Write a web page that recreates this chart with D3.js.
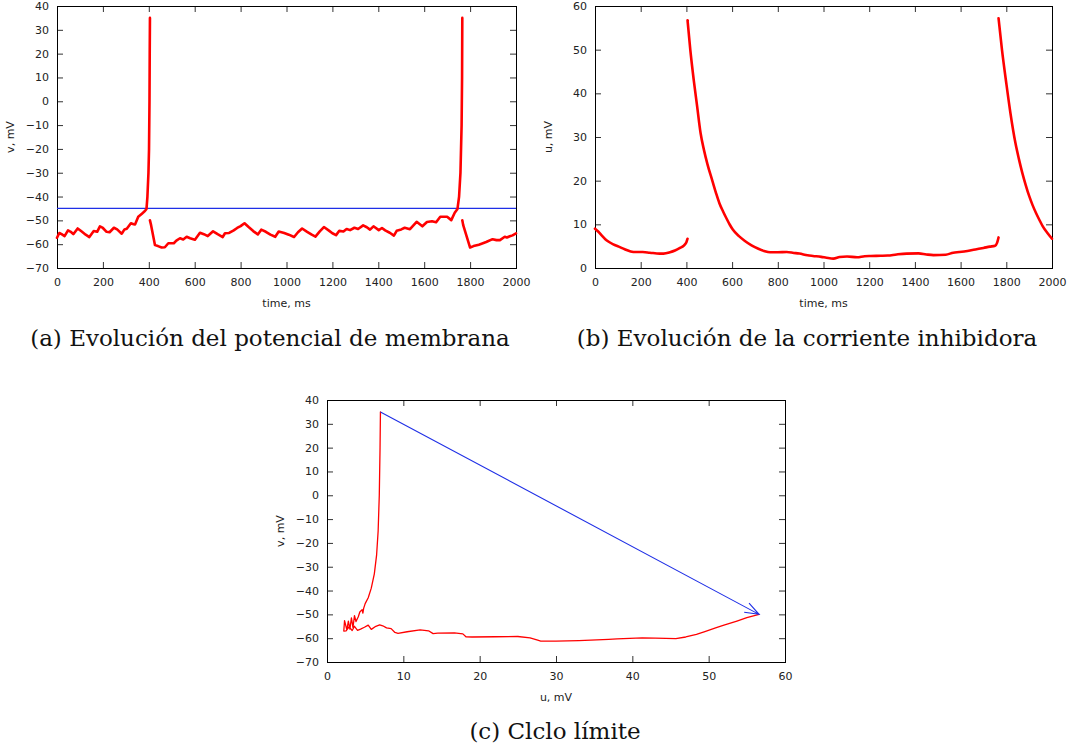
<!DOCTYPE html>
<html>
<head>
<meta charset="utf-8">
<script src="https://cdn.jsdelivr.net/npm/d3@7"></script>
<style>
body { margin: 0; background: #fff; }
svg { display: block; }
.tick text { font-family: "DejaVu Sans", sans-serif; font-size: 11px; fill: #222; }
.tick line { stroke: #333; }
.axis-label { font-family: "DejaVu Sans", sans-serif; font-size: 11px; fill: #222; text-anchor: middle; }
.caption { font-family: "DejaVu Serif", serif; font-size: 23px; fill: #111; text-anchor: middle; }
.frame { fill: none; stroke: #000; stroke-width: 1; }
.line { fill: none; stroke-linejoin: round; stroke-linecap: round; }
</style>
</head>
<body>
<svg id="chart" width="1075" height="750"></svg>
<script>
var red = "#ff0000",
    blue = "#1f2fe6";

// (a) membrane potential v(t), null = break at spike reset
var vTime = [0, 10, 20, 33, 48, 60, 71, 90, 105, 125, 141, 160, 175, 187, 200, 216, 229, 248, 262, 282, 294, 304, 322, 334, 340, 354, 370, 383, 390, 394, 398.5, 401, 403, 404, 405,
  405,
  405, 410, 427, 440, 456, 470, 485, 509, 520, 536, 550, 565, 580, 601, 623, 640, 657, 680, 700, 722, 732, 750, 770, 785, 800, 817, 835, 855, 875, 890, 910, 930, 951, 966, 990, 1010, 1033, 1050, 1068, 1090, 1110, 1126, 1145, 1163, 1185, 1200, 1216, 1230, 1248, 1262, 1277, 1296, 1312, 1334, 1350, 1364, 1379, 1402, 1416, 1430, 1450, 1468, 1480, 1500, 1515, 1538, 1567, 1592, 1612, 1634, 1652, 1670, 1700, 1718, 1733, 1745, 1752, 1758, 1763, 1765, 1766,
  1766,
  1766, 1770, 1800, 1815, 1838, 1850, 1870, 1898, 1915, 1930, 1951, 1960, 1973, 1985, 2000];
var vValue = [-57.3, -55.3, -55.8, -56.6, -54.2, -54.8, -55.8, -53.4, -54.5, -56, -57, -54.5, -54.8, -52.5, -53.2, -54.8, -55, -53.1, -53.8, -55.6, -53.8, -53.5, -51.2, -51.6, -51.7, -48.5, -47.2, -46.1, -45.2, -40, -30, -20, 0, 20, 35,
  null,
  -50, -52, -60.4, -60.8, -61.4, -61.3, -59.6, -59.6, -58.5, -57.5, -58, -56.9, -57.5, -58.1, -55.2, -55.8, -56.6, -54.6, -55.8, -57, -55.4, -55.3, -54.2, -53.2, -52.4, -51.2, -52.8, -54.5, -55.9, -53.9, -54.8, -56, -56.9, -54.7, -55.3, -56, -57, -55, -53.4, -54.8, -56, -56.8, -54.6, -52.8, -54.3, -55.4, -56.2, -54.4, -54.7, -53.6, -54.1, -53.1, -53.6, -52.1, -52.9, -53.9, -52.5, -54.1, -53.2, -54.2, -55.2, -56.4, -54.4, -53.8, -53.1, -53.7, -50.6, -52.5, -50.7, -50.4, -50.8, -48.5, -48.5, -49.9, -46.8, -45.2, -40, -30, -10, 10, 35,
  null,
  -50, -52, -61.4, -60.8, -60.2, -59.8, -59.1, -57.9, -58.3, -58.3, -56.9, -57.2, -56.7, -56.3, -55.5];
var threshold = -45;

// (b) inhibitory current u(t)
var uTime = [0, 15, 30, 45, 60, 80, 104, 130, 156, 180, 209, 240, 283, 300, 328, 350, 372, 390, 400, 405,
  405,
  405, 417, 432, 447, 462, 477, 492, 514, 530, 544, 560, 574, 590, 603, 630, 656, 685, 715, 740, 766, 800, 839, 870, 894, 930, 954, 990, 1013, 1043, 1070, 1103, 1147, 1180, 1207, 1250, 1281, 1320, 1364, 1416, 1450, 1481, 1535, 1568, 1594, 1630, 1670, 1700, 1728, 1751, 1760, 1766,
  1766,
  1766, 1781, 1800, 1818, 1840, 1855, 1870, 1885, 1900, 1915, 1930, 1945, 1959, 1980, 2000];
var uValue = [9.0, 8.3, 7.4, 6.6, 6.0, 5.4, 4.9, 4.3, 3.8, 3.65, 3.65, 3.5, 3.3, 3.3, 3.6, 4.0, 4.6, 5.2, 5.9, 6.7,
  null,
  56.7, 50, 43.1, 37, 30.9, 27, 23.8, 19.9, 17.1, 14.9, 13.0, 11.5, 9.9, 8.8, 7.3, 6.2, 5.2, 4.4, 3.9, 3.6, 3.6, 3.65, 3.45, 3.3, 2.9, 2.75, 2.55, 2.35, 2.15, 2.5, 2.65, 2.45, 2.7, 2.75, 2.8, 2.85, 3.1, 3.3, 3.35, 3.1, 2.95, 3.05, 3.5, 3.65, 3.9, 4.3, 4.6, 4.9, 5.1, 5.8, 7.0,
  null,
  57.2, 50, 42.3, 35.5, 28.6, 25, 21.8, 19, 16.5, 14.4, 12.6, 11, 9.6, 8.0, 6.7];

// (c) limit cycle, v against u
var cycleU = [56.6, 55, 53.7, 52, 51, 49.5, 48.4, 47, 45.7, 43, 41.3, 38, 36.9, 33, 30, 28, 27.6, 26.6, 25, 22, 19, 18.2, 17.8, 16.7, 14.5, 13.9, 13.3, 12.2, 10.5, 9.3, 8.9, 8.4, 7.8, 7.3, 6.9, 6.4, 5.8, 5.4, 4.9, 4.4, 4.0, 3.6, 3.3, 2.9, 2.5, 2.2, 2.3, 2.6, 2.8, 3.0, 3.2, 3.4, 3.6, 3.8, 4.1, 4.3, 4.6, 4.7, 4.8, 5.0, 5.4, 5.8, 6.2, 6.5, 6.7, 6.85, 6.95, 7.0];
var cycleV = [-50, -51.4, -52.8, -54.5, -55.6, -57.2, -58.4, -59.5, -60.2, -60, -59.9, -60.3, -60.5, -61, -61.2, -61.2, -60.8, -59.9, -59.3, -59.4, -59.5, -59.4, -58.2, -57.8, -57.9, -58.1, -56.9, -56.5, -57.3, -58, -57.6, -56, -55.7, -54.8, -54.4, -55, -56.3, -54.5, -55.4, -56.2, -56.7, -55, -56.8, -55.2, -56.9, -57, -52.6, -56.5, -52.8, -56.2, -51.5, -55.5, -50.5, -53, -51, -49, -48, -49.5, -47.5, -45.5, -43, -39, -33, -25, -15, 0, 20, 35];
var jumpFrom = [7.0, 35],
    jumpTo = [56.6, -50];

var timeTicks = [0, 200, 400, 600, 800, 1000, 1200, 1400, 1600, 1800, 2000],
    vTicks = [-70, -60, -50, -40, -30, -20, -10, 0, 10, 20, 30, 40],
    uTicks = [0, 10, 20, 30, 40, 50, 60];

var captions = ["(a) Evolución del potencial de membrana",
  "(b) Evolución de la corriente inhibidora",
  "(c) Clclo límite"];

var svg = d3.select("#chart");

//Draw a gnuplot style box with inward ticks on all four sides
function drawPanel(box, xDomain, yDomain, xTicks, yTicks, xLabel, yLabel){
  var x = d3.scaleLinear().domain(xDomain).range([0, box.width]);
  var y = d3.scaleLinear().domain(yDomain).range([box.height, 0]);
  var fmt = d3.format("d");

  var g = svg.append("g")
    .attr("transform", "translate(" + box.left + "," + box.top + ")");

  g.append("g")
    .attr("transform", "translate(0," + box.height + ")")
    .call(d3.axisBottom(x).tickValues(xTicks).tickSize(-6).tickPadding(10).tickFormat(fmt));
  g.append("g")
    .call(d3.axisTop(x).tickValues(xTicks).tickSize(-6).tickFormat(""));
  g.append("g")
    .call(d3.axisLeft(y).tickValues(yTicks).tickSize(-6).tickPadding(8).tickFormat(fmt));
  g.append("g")
    .attr("transform", "translate(" + box.width + ",0)")
    .call(d3.axisRight(y).tickValues(yTicks).tickSize(-6).tickFormat(""));
  g.selectAll(".domain").remove();

  g.append("rect")
    .attr("class", "frame")
    .attr("x", 0.5)
    .attr("y", 0.5)
    .attr("width", box.width)
    .attr("height", box.height);

  g.append("text")
    .attr("class", "axis-label")
    .attr("x", box.width / 2)
    .attr("y", box.height + 35)
    .attr("dy", "0.35em")
    .text(xLabel);

  g.append("text")
    .attr("class", "axis-label")
    .attr("transform", "translate(-47," + (box.height / 2) + ") rotate(-90)")
    .attr("dy", "0.35em")
    .text(yLabel);

  return {g: g, x: x, y: y};
}

//(a) v against time
var pa = drawPanel({left: 57, top: 6, width: 459, height: 262}, [0, 2000], [-70, 40], timeTicks, vTicks, "time, ms", "v, mV");

pa.g.append("line")
  .attr("x1", pa.x(0))
  .attr("x2", pa.x(2000))
  .attr("y1", pa.y(threshold))
  .attr("y2", pa.y(threshold))
  .style("stroke", blue)
  .style("stroke-width", 1.2);

var vLine = d3.line()
  .defined(function(d){ return d[1] !== null; })
  .x(function(d){ return pa.x(d[0]); })
  .y(function(d){ return pa.y(d[1]); });

pa.g.append("path")
  .datum(d3.zip(vTime, vValue))
  .attr("class", "line")
  .style("stroke", red)
  .style("stroke-width", 2.6)
  .attr("d", vLine);

//(b) u against time
var pb = drawPanel({left: 595, top: 6, width: 457, height: 262}, [0, 2000], [0, 60], timeTicks, uTicks, "time, ms", "u, mV");

var uLine = d3.line()
  .defined(function(d){ return d[1] !== null; })
  .x(function(d){ return pb.x(d[0]); })
  .y(function(d){ return pb.y(d[1]); })
  .curve(d3.curveMonotoneX);

pb.g.append("path")
  .datum(d3.zip(uTime, uValue))
  .attr("class", "line")
  .style("stroke", red)
  .style("stroke-width", 2.6)
  .attr("d", uLine);

//(c) phase plane
var pc = drawPanel({left: 327, top: 400, width: 458, height: 262}, [0, 60], [-70, 40], uTicks, vTicks, "u, mV", "v, mV");

var cycleLine = d3.line()
  .x(function(d){ return pc.x(d[0]); })
  .y(function(d){ return pc.y(d[1]); });

pc.g.append("path")
  .datum(d3.zip(cycleU, cycleV))
  .attr("class", "line")
  .style("stroke", red)
  .style("stroke-width", 1.3)
  .attr("d", cycleLine);

//Reset jump arrow with open head
var ax1 = pc.x(jumpFrom[0]), ay1 = pc.y(jumpFrom[1]),
    ax2 = pc.x(jumpTo[0]), ay2 = pc.y(jumpTo[1]);
var ang = Math.atan2(ay2 - ay1, ax2 - ax1),
    headLen = 15, headAng = 20 * Math.PI / 180;

pc.g.append("path")
  .attr("d", "M" + ax1 + "," + ay1 + "L" + ax2 + "," + ay2 +
    "M" + (ax2 - headLen * Math.cos(ang - headAng)) + "," + (ay2 - headLen * Math.sin(ang - headAng)) +
    "L" + ax2 + "," + ay2 +
    "L" + (ax2 - headLen * Math.cos(ang + headAng)) + "," + (ay2 - headLen * Math.sin(ang + headAng)))
  .style("fill", "none")
  .style("stroke", blue)
  .style("stroke-width", 1.1);

//Subfigure captions
var capPos = [[270, 346], [807, 346], [555, 739]];
svg.selectAll(".caption")
  .data(captions)
  .enter().append("text")
  .attr("class", "caption")
  .attr("x", function(d, i){ return capPos[i][0]; })
  .attr("y", function(d, i){ return capPos[i][1]; })
  .text(function(d){ return d; });
</script>
</body>
</html>
